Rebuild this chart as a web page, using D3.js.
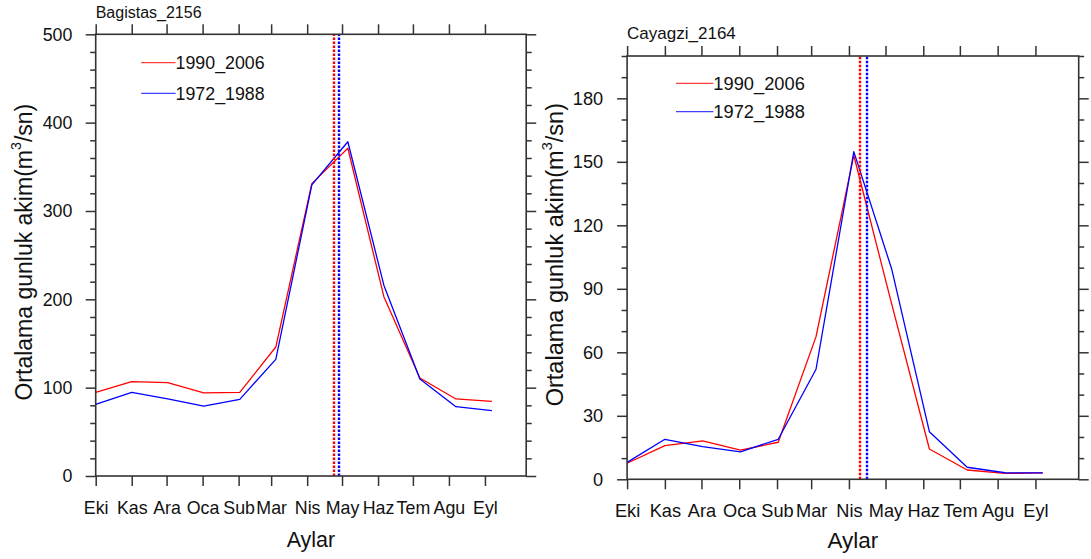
<!DOCTYPE html>
<html><head><meta charset="utf-8">
<script src="https://cdn.jsdelivr.net/npm/d3@7"></script>
<style>body{margin:0;background:#fff}svg{display:block}</style>
</head><body><svg id="c" width="1091" height="559"></svg>
<script>
// ---- data ----
const months = ["Eki","Kas","Ara","Oca","Sub","Mar","Nis","May","Haz","Tem","Agu","Eyl"];
const monthStartDays = [0,31,61,92,123,151,182,212,243,273,304,335];
const pointDays = [0,31,62,93,124,155,186,217,248,279,310,341];
const seriesNames = ["1990_2006","1972_1988"];
const seriesColors = ["#ff0000","#0000ff"];

const bagistas_1990_2006 = [94.7,106.8,105.7,94.0,94.7,146,331,371,203,111,87.2,84.5];
const bagistas_1972_1988 = [81.0,94.7,87.2,79.2,86.8,132,329.5,378.4,216,109.8,78.5,74.0];
const bagistasCenterDays = [205.4,209.5];
const bagistasYTicks = [0,100,200,300,400,500];

const cayagzi_1990_2006 = [7.6,15.9,18.2,13.8,17.5,67.4,153,83,14.3,4.4,2.8,3.0];
const cayagzi_1972_1988 = [8.0,18.9,15.4,13.0,18.9,52,154.8,99.5,22.5,5.7,3.1,3.0];
const cayagziCenterDays = [191.1,197.1];
const cayagziYTicks = [0,30,60,90,120,150,180];

const xDomainMax = 370.5;
const FONT = "'Liberation Sans', Arial, Helvetica, sans-serif";
const svg = d3.select("#c");

function panel(cfg){
  const g = svg.append("g");
  const x = d3.scaleLinear().domain([0,xDomainMax]).range([cfg.left,cfg.right]);
  const y = d3.scaleLinear().domain([0,cfg.yMax]).range([cfg.bottom,cfg.top]);
  const minors = d3.range(0,cfg.yMax+1e-6,cfg.minorStep).filter(v=>!cfg.yTicks.some(t=>Math.abs(t-v)<1e-6));

  function style(sel){
    sel.select(".domain").remove();
    sel.selectAll(".tick line").attr("stroke","#333").attr("stroke-width",1.5);
    sel.selectAll(".tick text").attr("fill","#111").style("font-family",FONT);
  }
  // x axes
  g.append("g").attr("transform",`translate(0,${cfg.bottom})`)
    .call(d3.axisBottom(x).tickValues(monthStartDays).tickFormat((d,i)=>months[i]).tickSizeInner(10).tickSizeOuter(0).tickPadding(cfg.xPad))
    .call(style).selectAll("text").style("font-size",cfg.tickFont+"px");
  g.append("g").attr("transform",`translate(0,${cfg.top})`)
    .call(d3.axisTop(x).tickValues(monthStartDays).tickFormat("").tickSizeInner(10).tickSizeOuter(0)).call(style);
  // y axes
  g.append("g").attr("transform",`translate(${cfg.left},0)`)
    .call(d3.axisLeft(y).tickValues(cfg.yTicks).tickFormat(d3.format("d")).tickSizeInner(10).tickSizeOuter(0).tickPadding(cfg.yPad))
    .call(style).selectAll("text").style("font-size",cfg.tickFont+"px");
  g.append("g").attr("transform",`translate(${cfg.left},0)`)
    .call(d3.axisLeft(y).tickValues(minors).tickFormat("").tickSizeInner(5.5).tickSizeOuter(0)).call(style);
  g.append("g").attr("transform",`translate(${cfg.right},0)`)
    .call(d3.axisRight(y).tickValues(cfg.yTicks).tickFormat("").tickSizeInner(10).tickSizeOuter(0)).call(style);
  g.append("g").attr("transform",`translate(${cfg.right},0)`)
    .call(d3.axisRight(y).tickValues(minors).tickFormat("").tickSizeInner(5.5).tickSizeOuter(0)).call(style);

  // series
  const line = d3.line().x((d,i)=>x(pointDays[i])).y(d=>y(d));
  cfg.series.forEach((s,k)=>{
    g.append("path").attr("d",line(s)).attr("fill","none")
      .attr("stroke",seriesColors[k]).attr("stroke-width",1.3).attr("stroke-linejoin","round");
  });
  // dotted center lines
  cfg.centers.forEach((c,k)=>{
    const cx = Math.round(x(c));
    g.append("line").attr("x1",cx).attr("x2",cx).attr("y1",y(0)).attr("y2",y(cfg.yMax))
      .attr("stroke",seriesColors[k]).attr("stroke-width",2.4).attr("stroke-dasharray","2.5,1.5");
  });
  // frame
  g.append("rect").attr("x",cfg.left).attr("y",cfg.top).attr("width",cfg.right-cfg.left).attr("height",cfg.bottom-cfg.top)
    .attr("fill","none").attr("stroke","#333").attr("stroke-width",1.6);

  // legend
  seriesNames.forEach((n,k)=>{
    const ly = cfg.legY[k];
    g.append("line").attr("x1",cfg.legX).attr("x2",cfg.legX+cfg.legLen).attr("y1",ly).attr("y2",ly)
      .attr("stroke",seriesColors[k]).attr("stroke-width",1.3).attr("stroke-opacity",0.75);
    g.append("text").attr("x",cfg.legX+cfg.legLen).attr("y",ly).attr("dy","0.35em")
      .style("font-family",FONT).style("font-size",cfg.legFont+"px").attr("fill","#111").text(n);
  });
  // title
  g.append("text").attr("x",cfg.left).attr("y",cfg.titleY).style("font-family",FONT)
    .style("font-size",cfg.titleFont+"px").attr("fill","#111").text(cfg.title);
  // x title
  g.append("text").attr("x",(cfg.left+cfg.right)/2).attr("y",cfg.bottom+cfg.xTitleOff).attr("text-anchor","middle")
    .style("font-family",FONT).style("font-size",cfg.xTitleFont+"px").attr("fill","#111").text("Aylar");
  // y title
  const yt = g.append("text").attr("transform",`translate(${cfg.yTitleX},${(cfg.top+cfg.bottom)/2+cfg.yTitleDy}) rotate(-90)`)
    .attr("text-anchor","middle").style("font-family",FONT).style("font-size",cfg.yTitleFont+"px").attr("fill","#111");
  yt.append("tspan").text("Ortalama gunluk akim(m");
  yt.append("tspan").attr("dy",-0.45*cfg.yTitleFont).style("font-size",(cfg.yTitleFont*0.62)+"px").text("3");
  yt.append("tspan").attr("dy",0.45*cfg.yTitleFont).text("/sn)");
}

panel({left:95.7,right:526.2,top:34.3,bottom:476,yMax:500,yTicks:bagistasYTicks,minorStep:20,
  series:[bagistas_1990_2006,bagistas_1972_1988],centers:bagistasCenterDays,
  xPad:15.5,yPad:13.4,tickFont:17.8,legX:141.2,legLen:34.4,legY:[62.7,93.3],legFont:17.8,
  title:"Bagistas_2156",titleY:18.3,titleFont:16,xTitleOff:71.3,xTitleFont:21.5,yTitleX:31.5,yTitleDy:-3,yTitleFont:23});

panel({left:627.1,right:1078.7,top:56,bottom:479.3,yMax:200,yTicks:cayagziYTicks,minorStep:10,
  series:[cayagzi_1990_2006,cayagzi_1972_1988],centers:cayagziCenterDays,
  xPad:14.5,yPad:13.9,tickFont:18.2,legX:676,legLen:37.3,legY:[83.3,111.7],legFont:18.3,
  title:"Cayagzi_2164",titleY:39.3,titleFont:17,xTitleOff:69,xTitleFont:22.5,yTitleX:562.5,yTitleDy:-13,yTitleFont:23.5});
</script></body></html>
